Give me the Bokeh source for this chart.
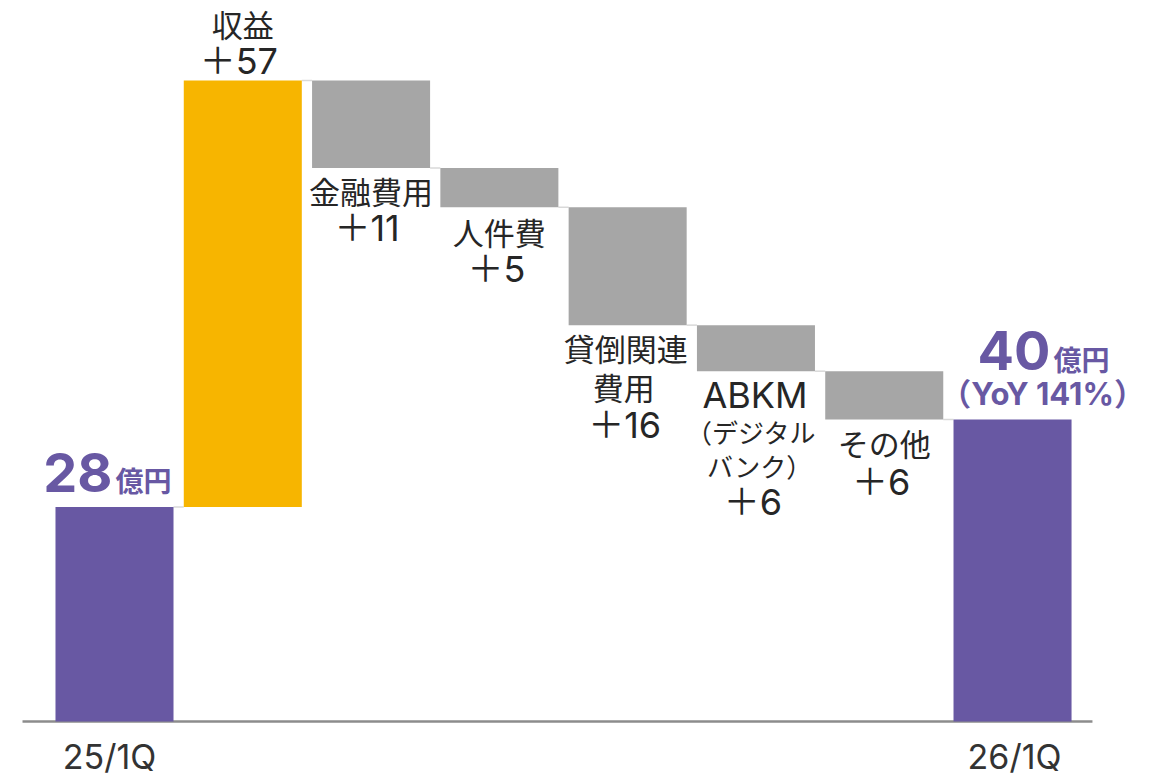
from bokeh.plotting import figure
from bokeh.models import Range1d, ColumnDataSource
from bokeh.core.properties import value
from bokeh.embed import file_html
from bokeh.resources import INLINE

# ---------------- data ----------------
categories = ["25/1Q", "収益", "金融費用", "人件費", "貸倒関連費用",
              "ABKM（デジタルバンク）", "その他", "26/1Q"]
start_value = 28.4
changes = [56.5, -11.6, -5.2, -15.6, -6.1, -6.4]
end_value = 40.0
start_label = "28"
end_label = "40"
unit_label = "億円"
yoy_label = "（YoY 141%）"
change_labels = [["収益", "＋57"],
                 ["金融費用", "＋11"],
                 ["人件費", "＋5"],
                 ["貸倒関連", "費用", "＋16"],
                 ["ABKM", "（デジタル", "バンク）", "＋6"],
                 ["その他", "＋6"]]

# ---------------- styles ----------------
JP = "Noto Sans CJK JP"
LAT = "Inter, 'Noto Sans CJK JP'"
DARK = "#262626"
PURPLE = "#6858A3"
ORANGE = "#F7B500"
GREY = "#A6A6A6"
CONNECT = "#D9D9D9"
AXIS = "#8C8C8C"
BAR_W = 0.92
line_offsets = [[-57, -19.5], [22, 60], [24, 62], [22, 61, 100],
                [24, 60, 94, 131], [23, 62]]
line_xoffsets = [[0, -4], [0, -4], [0, -3], [-2, -4, -3],
                 [-1, -5, 3, -3], [0, -3]]
line_sizes = [[31, 36], [31, 36], [31, 36], [31, 31, 36],
              [36, 26, 26, 36], [31, 36]]
line_fonts = [[JP, LAT], [JP, LAT], [JP, LAT], [JP, JP, LAT],
              [LAT, JP, JP, LAT], [JP, LAT]]

# ---------------- derived ----------------
n = len(categories)
xs = list(range(n))
running = [start_value]
for c in changes:
    running.append(running[-1] + c)
bar_bottom = [0.0] + [min(running[i], running[i + 1]) for i in range(len(changes))] + [0.0]
bar_top = [start_value] + [max(running[i], running[i + 1]) for i in range(len(changes))] + [end_value]
colors = [PURPLE] + [ORANGE if c > 0 else GREY for c in changes] + [PURPLE]

p = figure(width=1155, height=776,
           x_range=Range1d(-0.8886, 8.1144), y_range=Range1d(-7.285, 95.497),
           output_backend="svg", toolbar_location=None,
           x_axis_type=None, y_axis_type=None, min_border=0)
p.grid.visible = False
p.outline_line_color = None
p.background_fill_color = "white"
p.border_fill_color = "white"

# baseline
p.segment(x0=[xs[0] - 0.717], x1=[xs[-1] + 0.623], y0=[0], y1=[0],
          line_color=AXIS, line_width=2.5)

# connectors
levels = running[:]
p.segment(x0=[k + BAR_W / 2 for k in range(n - 1)],
          x1=[k + 1 - BAR_W / 2 for k in range(n - 1)],
          y0=levels, y1=levels, line_color=CONNECT, line_width=1.5)

# bars
src = ColumnDataSource(dict(x=xs, bottom=bar_bottom, top=bar_top, color=colors))
p.vbar(x="x", width=BAR_W, bottom="bottom", top="top", fill_color="color",
       line_color=None, source=src)


def add_text(x, y, text, size, color=DARK, align="center", baseline="middle",
             xo=0, yo=0, bold=False, font=JP):
    p.text(x=[x], y=[y], text=[text], x_offset=xo, y_offset=yo,
           text_font=value(font), text_font_size=f"{size}px",
           text_color=color, text_align=align, text_baseline=baseline,
           text_font_style="bold" if bold else "normal")


# change labels
for i, c in enumerate(changes):
    k = i + 1
    anchor = bar_top[k] if c > 0 else bar_bottom[k]
    for line, off, xoff, sz, fnt in zip(change_labels[i], line_offsets[i],
                                        line_xoffsets[i], line_sizes[i],
                                        line_fonts[i]):
        add_text(k, anchor, line, sz, xo=xoff, yo=off, font=fnt)

# start / end value labels
add_text(0, bar_top[0], start_label, 54, PURPLE, "right", "middle",
         xo=-2, yo=-35, bold=True, font=LAT)
add_text(0, bar_top[0], unit_label, 28, PURPLE, "left", "middle",
         xo=1, yo=-27, bold=True)
add_text(n - 1, bar_top[-1], end_label, 54, PURPLE, "right", "middle",
         xo=38, yo=-69, bold=True, font=LAT)
add_text(n - 1, bar_top[-1], unit_label, 28, PURPLE, "left", "middle",
         xo=41, yo=-61, bold=True)
add_text(n - 1, bar_top[-1], yoy_label, 31, PURPLE, "center", "middle",
         xo=30, yo=-26, bold=True, font=LAT)

# category labels
add_text(0, 0, categories[0], 34, "#333333", "center", "middle",
         xo=-5, yo=35, font=LAT)
add_text(n - 1, 0, categories[-1], 34, "#333333", "center", "middle",
         xo=2, yo=35, font=LAT)

open("out.html", "w").write(file_html(p, INLINE))
